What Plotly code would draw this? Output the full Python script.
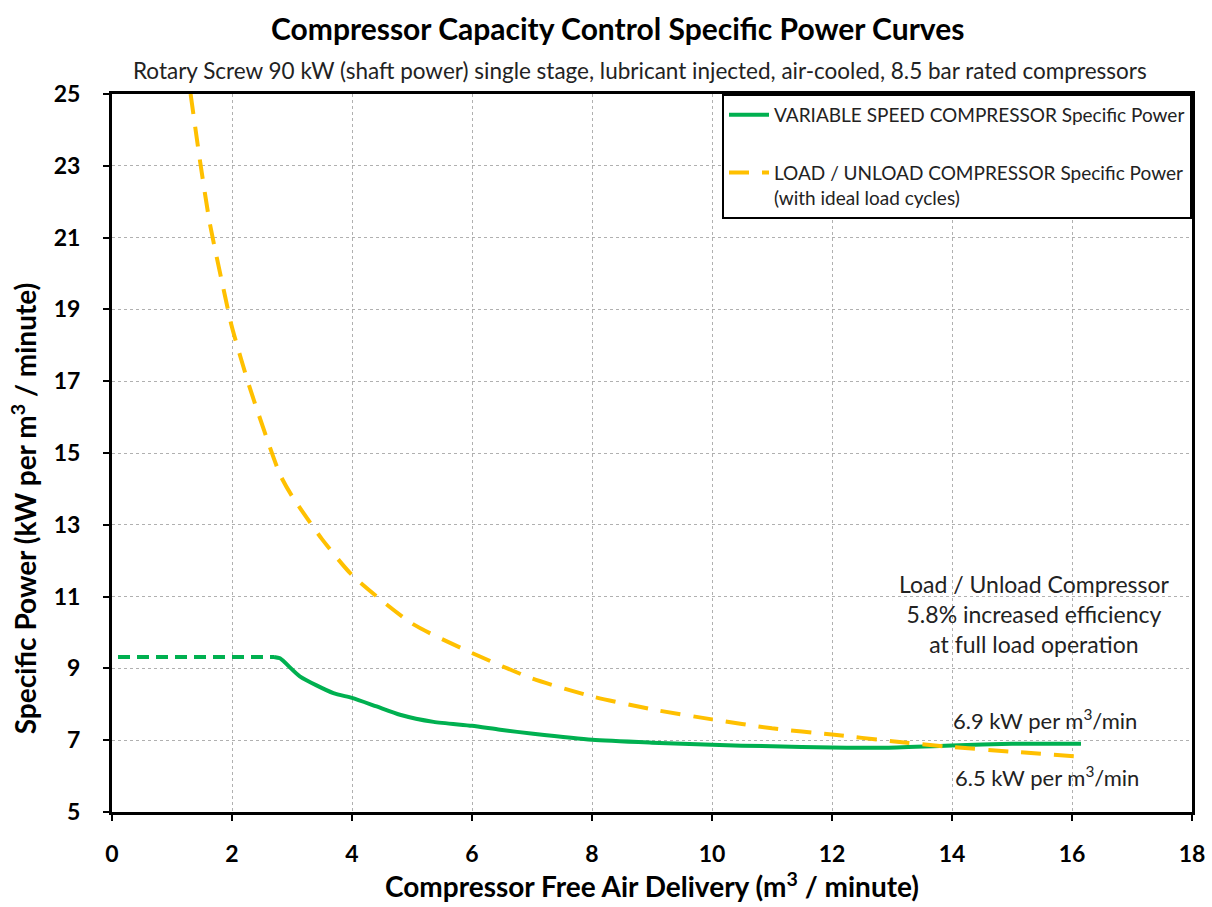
import plotly.graph_objects as go

# ---- data ----
vs_flat_x = [0.1, 2.7]
vs_flat_y = [9.32, 9.32]

vs_x = [2.7, 2.8, 3.13, 3.69, 4.0, 4.41, 4.8, 5.36, 6.0, 6.47, 7.02, 8.0, 9.0, 10.0, 11.0, 12.0, 12.9, 14.0, 15.0, 16.15]
vs_y = [9.32, 9.28, 8.78, 8.31, 8.18, 7.94, 7.71, 7.51, 7.40, 7.29, 7.18, 7.01, 6.93, 6.87, 6.83, 6.80, 6.79, 6.85, 6.90, 6.90]

lu_x = [1.31, 1.47, 1.63, 1.88, 2.0, 2.3, 2.8, 3.0, 3.5, 4.0, 5.0, 6.0, 7.0, 8.0, 9.0, 10.0, 11.0, 12.0, 13.0, 14.0, 15.0, 16.15]
lu_y = [25.0, 23.1, 21.4, 19.4, 18.5, 16.8, 14.4, 13.8, 12.6, 11.6, 10.25, 9.43, 8.72, 8.22, 7.86, 7.58, 7.33, 7.16, 6.97, 6.81, 6.68, 6.54]

x_ticks = list(range(0, 19, 2))
y_ticks = list(range(5, 26, 2))

GREEN = "#00B050"
ORANGE = "#FFC000"
FONT = "Lato"
TXT = "#222222"

fig = go.Figure()

fig.add_trace(go.Scatter(
    x=vs_flat_x, y=vs_flat_y, mode="lines",
    line=dict(color=GREEN, width=4, dash="12px,7px"),
    showlegend=False, hoverinfo="skip"))

fig.add_trace(go.Scatter(
    x=vs_x, y=vs_y, mode="lines",
    line=dict(color=GREEN, width=4, shape="spline", smoothing=0.6),
    name="VARIABLE SPEED COMPRESSOR Specific Power",
    legendgroup="a"))

fig.add_trace(go.Scatter(
    x=lu_x, y=lu_y, mode="lines",
    line=dict(color=ORANGE, width=4, dash="20px,13px", shape="spline", smoothing=0.6),
    name="LOAD / UNLOAD COMPRESSOR Specific Power<br>(with ideal load cycles)",
    legendgroup="b"))

fig.update_layout(
    width=1212, height=907,
    margin=dict(l=112, r=20, t=94, b=95),
    paper_bgcolor="white", plot_bgcolor="white",
    font=dict(family=FONT, color="black"),
    showlegend=True,
    legend=dict(
        x=1, xanchor="right", y=1, yanchor="top",
        bgcolor="white", bordercolor="black", borderwidth=2,
        font=dict(family=FONT, size=19, color=TXT),
        tracegroupgap=30, valign="top", itemwidth=40),
    annotations=[
        dict(text="<b>Compressor Capacity Control Specific Power Curves</b>",
             xref="paper", yref="paper", x=0.4676, y=1, yshift=66, xanchor="center", yanchor="middle",
             showarrow=False, font=dict(size=30, family=FONT)),
        dict(text="Rotary Screw 90 kW (shaft power) single stage, lubricant injected, air-cooled, 8.5 bar rated compressors",
             xref="paper", yref="paper", x=0.4889, y=1, yshift=24, xanchor="center", yanchor="middle",
             showarrow=False, font=dict(size=22.5, family=FONT, color=TXT)),
        dict(text="<b>Specific Power (kW per m<sup>3</sup> / minute)</b>",
             xref="paper", yref="paper", x=0, xshift=-88, y=0.423, xanchor="center", yanchor="middle",
             textangle=-90, showarrow=False, font=dict(size=28, family=FONT)),
        dict(text="Load / Unload Compressor<br>5.8% increased efficiency<br>at full load operation",
             x=15.38, y=10.52, xanchor="center", yanchor="middle", align="center",
             showarrow=False, font=dict(size=23, family=FONT, color=TXT)),
        dict(text="6.9 kW per m<sup>3</sup>/min",
             x=15.55, y=7.57, xanchor="center", yanchor="middle",
             showarrow=False, font=dict(size=22, family=FONT, color=TXT)),
        dict(text="6.5 kW per m<sup>3</sup>/min",
             x=15.58, y=5.98, xanchor="center", yanchor="middle",
             showarrow=False, font=dict(size=22, family=FONT, color=TXT)),
    ],
)

fig.update_xaxes(
    range=[0, 18], tickvals=x_ticks, ticktext=[f"<b>{v}</b>" for v in x_ticks],
    showline=True, linecolor="black", linewidth=3, mirror=True,
    ticks="outside", ticklen=6, tickwidth=2, tickcolor="black",
    showgrid=True, gridcolor="#b0b0b0", gridwidth=1, griddash="dot",
    zeroline=False, tickfont=dict(size=23, family=FONT), ticklabelstandoff=13,
    automargin=False,
    title=dict(text="<b>Compressor Free Air Delivery (m<sup>3</sup> / minute)</b>",
               font=dict(size=28, family=FONT), standoff=12))

fig.update_yaxes(
    range=[5, 25], tickvals=y_ticks, ticktext=[f"<b>{v}</b>" for v in y_ticks],
    showline=True, linecolor="black", linewidth=3, mirror=True,
    ticks="outside", ticklen=6, tickwidth=2, tickcolor="black",
    showgrid=True, gridcolor="#b0b0b0", gridwidth=1, griddash="dot",
    zeroline=False, tickfont=dict(size=23, family=FONT), ticklabelstandoff=18,
    automargin=False)

fig.write_html("out.html")
